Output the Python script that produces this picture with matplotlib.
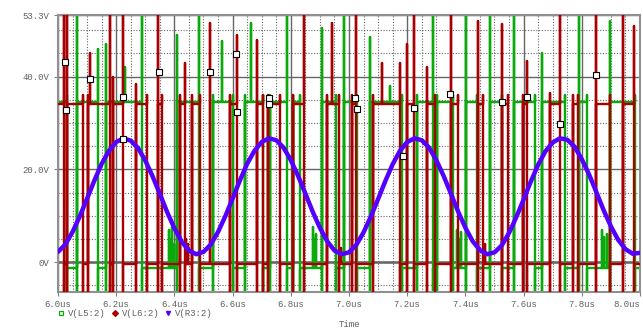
import numpy as np
import matplotlib
matplotlib.use('Agg')
import matplotlib.pyplot as plt

# levels of the two switching nodes
RH, RL = 34.2, -0.5   # V(L6:2)
GH, GL = 34.6, -1.2   # V(L5:2)
TOP, BOT = 60.0, -8.0  # spikes that run off the plot

# V(L6:2) events: time (us), level after, highest point, lowest point
red_t = [6.021, 6.031, 6.086, 6.103, 6.110, 6.179, 6.189, 6.223, 6.268, 6.306,
         6.344, 6.357, 6.419, 6.436, 6.440, 6.446, 6.460, 6.488, 6.522, 6.591,
         6.615, 6.684, 6.704, 6.722, 6.763, 6.808, 6.845, 6.924, 6.942, 6.966,
         6.972, 7.010, 7.024, 7.082, 7.113, 7.175, 7.199, 7.223, 7.268, 7.296,
         7.351, 7.375, 7.443, 7.460, 7.466, 7.526, 7.546, 7.598, 7.612, 7.691,
         7.725, 7.770, 7.787, 7.849, 7.897, 7.942, 7.979]
red_lvl = [RL, RH, RL, RH, RH, RL, RH, RL, RH, RL,
           RH, RL, RH, RL, RL, RL, RH, RL, RL, RH,
           RL, RH, RL, RH, RL, RH, RL, RH, RH, RL,
           RL, RH, RL, RH, RH, RL, RH, RL, RH, RL,
           RH, RL, RH, RL, RL, RH, RL, RH, RL, RH,
           RL, RH, RL, RH, RL, RH, RL]
red_top = [TOP, TOP, 36, 36, 45, TOP, 40, TOP, 38.5, 36,
           TOP, 36, 36, 43, 5, 4, 36, 36, 51.6, 36,
           49, 48, 36, 36, 36, 36, TOP, 36, 51.6, 36,
           3, 36, TOP, 36, 43, 43, 47, TOP, 42, 36,
           TOP, 36, 52, 36, 4, 51.4, 36, 36, 43.4, 36.5,
           TOP, 36, 36, TOP, 36, TOP, 51]
red_bot = [BOT, BOT, BOT, BOT, RH, BOT, BOT, BOT, BOT, BOT,
           BOT, BOT, BOT, BOT, RL, RL, BOT, BOT, RL, BOT,
           BOT, BOT, BOT, BOT, BOT, BOT, BOT, BOT, RH, BOT,
           RL, BOT, BOT, BOT, RH, BOT, BOT, BOT, BOT, BOT,
           BOT, BOT, BOT, BOT, RL, BOT, BOT, BOT, BOT, BOT,
           BOT, BOT, BOT, BOT, BOT, BOT, BOT]

# V(L5:2) events
grn_t = [6.031, 6.065, 6.137, 6.165, 6.230, 6.289, 6.380, 6.386, 6.392, 6.398,
         6.409, 6.485, 6.533, 6.563, 6.601, 6.643, 6.663, 6.704, 6.729, 6.787,
         6.808, 6.832, 6.876, 6.882, 6.888, 6.907, 6.955, 6.983, 7.027, 7.072,
         7.141, 7.182, 7.234, 7.289, 7.302, 7.357, 7.370, 7.378, 7.385, 7.402,
         7.440, 7.485, 7.526, 7.567, 7.639, 7.663, 7.742, 7.790, 7.818, 7.870,
         7.878, 7.886, 7.897, 7.983]
grn_lvl = [GL, GH, GL, GH, GH, GL, GL, GL, GL, GL,
           GH, GL, GH, GH, GL, GH, GH, GL, GH, GL,
           GH, GL, GL, GL, GL, GH, GL, GH, GL, GH,
           GH, GL, GH, GL, GH, GL, GL, GL, GL, GH,
           GL, GH, GL, GH, GL, GH, GL, GH, GL, GL,
           GL, GL, GH, GL]
grn_top = [36, TOP, 46, 47, 42, TOP, 7, 5, 7.5, 4,
           49, TOP, 36, 47.7, 36, 36, 51.5, 36, 36, TOP,
           36, 36, 7.5, 5, 6, 50.5, 36, TOP, 36, 48.5,
           38, 36, 36, TOP, 36, 36, 7, 5, 6.5, 53,
           36, TOP, 36, TOP, 36, 45, 36, TOP, 36, 7,
           5.5, 6, 52, 36]
grn_bot = [BOT, BOT, BOT, BOT, GH, BOT, GL, GL, GL, GL,
           BOT, BOT, BOT, GH, BOT, BOT, GH, BOT, BOT, BOT,
           BOT, BOT, GL, GL, GL, BOT, BOT, BOT, BOT, BOT,
           GH, BOT, BOT, BOT, BOT, BOT, GL, GL, GL, BOT,
           BOT, BOT, BOT, BOT, BOT, BOT, BOT, BOT, BOT, GL,
           GL, GL, BOT, BOT]

# V(R3:2), read every 0.025us
blue_t = np.linspace(6.0, 8.0, 81)
blue_v = [2.2, 3.8, 6.5, 9.9, 13.7, 17.6, 21.2, 24.0, 25.9, 26.7,
          26.2, 24.6, 21.9, 18.5, 14.7, 10.8, 7.3, 4.4, 2.5, 1.7,
          2.2, 3.8, 6.5, 9.9, 13.7, 17.6, 21.2, 24.0, 25.9, 26.7,
          26.3, 24.7, 22.0, 18.6, 14.8, 10.9, 7.4, 4.5, 2.5, 1.7,
          2.1, 3.7, 6.4, 9.8, 13.6, 17.5, 21.1, 24.0, 25.9, 26.7,
          26.3, 24.7, 22.0, 18.6, 14.8, 10.9, 7.4, 4.5, 2.6, 1.7,
          2.1, 3.6, 6.3, 9.7, 13.5, 17.4, 21.0, 23.9, 25.8, 26.7,
          26.4, 24.9, 22.2, 18.9, 15.1, 11.2, 7.7, 4.8, 2.8, 1.8, 2.0]

# white square markers
mk_t = [6.024, 6.027, 6.110, 6.223, 6.223, 6.347, 6.522, 6.612, 6.615, 6.725,
        6.725, 7.021, 7.027, 7.186, 7.223, 7.347, 7.526, 7.612, 7.725, 7.849]
mk_v = [43.2, 32.9, 39.4, 35.7, 26.5, 41.1, 40.9, 44.9, 32.3, 35.3,
        34.2, 35.3, 33.1, 22.8, 33.3, 36.3, 34.6, 35.7, 29.7, 40.4]

x_ticks = [6.0, 6.2, 6.4, 6.6, 6.8, 7.0, 7.2, 7.4, 7.6, 7.8, 8.0]
x_labels = ['6.0us', '6.2us', '6.4us', '6.6us', '6.8us', '7.0us',
            '7.2us', '7.4us', '7.6us', '7.8us', '8.0us']
y_ticks = [0, 20, 40, 53.3]
y_labels = ['0V', '20.0V', '40.0V', '53.3V']


def trace(v0, ts, lvls, tops, bots):
    xs, ys, cur = [6.0], [v0], v0
    for t, lv, hi, lo in zip(ts, lvls, tops, bots):
        xs += [t, t, t, t]
        ys += [cur, hi, lo, lv]
        cur = lv
    xs.append(8.0)
    ys.append(cur)
    return xs, ys


MONO = 'Liberation Mono'
TXT = '#606060'
GREEN = '#0BAA0B'
RED = '#A80000'
BLUE = '#5500FF'

fig = plt.figure(figsize=(6.43, 3.29), dpi=100)
ax = fig.add_axes([58 / 643, 1 - 292 / 329, 582 / 643, 277 / 329])
ax.set_xlim(6.0, 8.0)
ax.set_ylim(-6.45, 53.3)

# grid
ax.set_xticks(np.arange(6.0, 8.001, 0.05), minor=True)
ax.set_yticks([-5, 5, 10, 15, 25, 30, 35, 45, 50], minor=True)
ax.grid(which='minor', color='#666666', lw=0.8, ls=(0, (1, 1.5)), zorder=0)
ax.grid(which='major', color='#666666', lw=1.0, zorder=0.5)
ax.axhline(0, color='#808080', lw=2, zorder=0.6)

gx, gy = trace(GH, grn_t, grn_lvl, grn_top, grn_bot)
rx, ry = trace(RH, red_t, red_lvl, red_top, red_bot)
ax.plot(gx, gy, color=GREEN, lw=1.7, zorder=2)
ax.plot(rx, ry, color=RED, lw=1.7, zorder=3)
ax.plot(blue_t, blue_v, color=BLUE, lw=3.2, zorder=4, solid_capstyle='round')
ax.plot(mk_t, mk_v, 's', ms=4.5, mfc='white', mec='black', mew=0.8, zorder=6)

ax.set_xticks(x_ticks)
ax.set_xticklabels(x_labels, fontfamily=MONO, fontsize=6.5, color=TXT)
ax.get_xticklabels()[-1].set_ha('right')
ax.set_yticks(y_ticks)
ax.set_yticklabels(y_labels, fontfamily=MONO, fontsize=6.5, color=TXT)
ax.tick_params(which='major', length=3, color='#808080', pad=3)
ax.tick_params(which='minor', length=0)
for s in ax.spines.values():
    s.set_color('#909090')
    s.set_linewidth(1.5)

ax.set_xlabel('Time', fontfamily=MONO, fontsize=6.5, color=TXT, labelpad=8)

# legend row under the axis
legend = [('s', GREEN, 'white', 'V(L5:2)', 61),
          ('D', RED, RED, 'V(L6:2)', 115),
          ('v', BLUE, BLUE, 'V(R3:2)', 168)]
for mk, ec, fc, name, px in legend:
    fig.lines.append(plt.Line2D([px / 643], [1 - 313 / 329], marker=mk, ms=3,
                                mec=ec, mfc=fc, mew=0.9, ls='none',
                                transform=fig.transFigure))
    fig.text((px + 7) / 643, 1 - 313 / 329, name, fontfamily=MONO,
             fontsize=6.5, color=TXT, va='center')

fig.savefig('out.png', dpi=100)
